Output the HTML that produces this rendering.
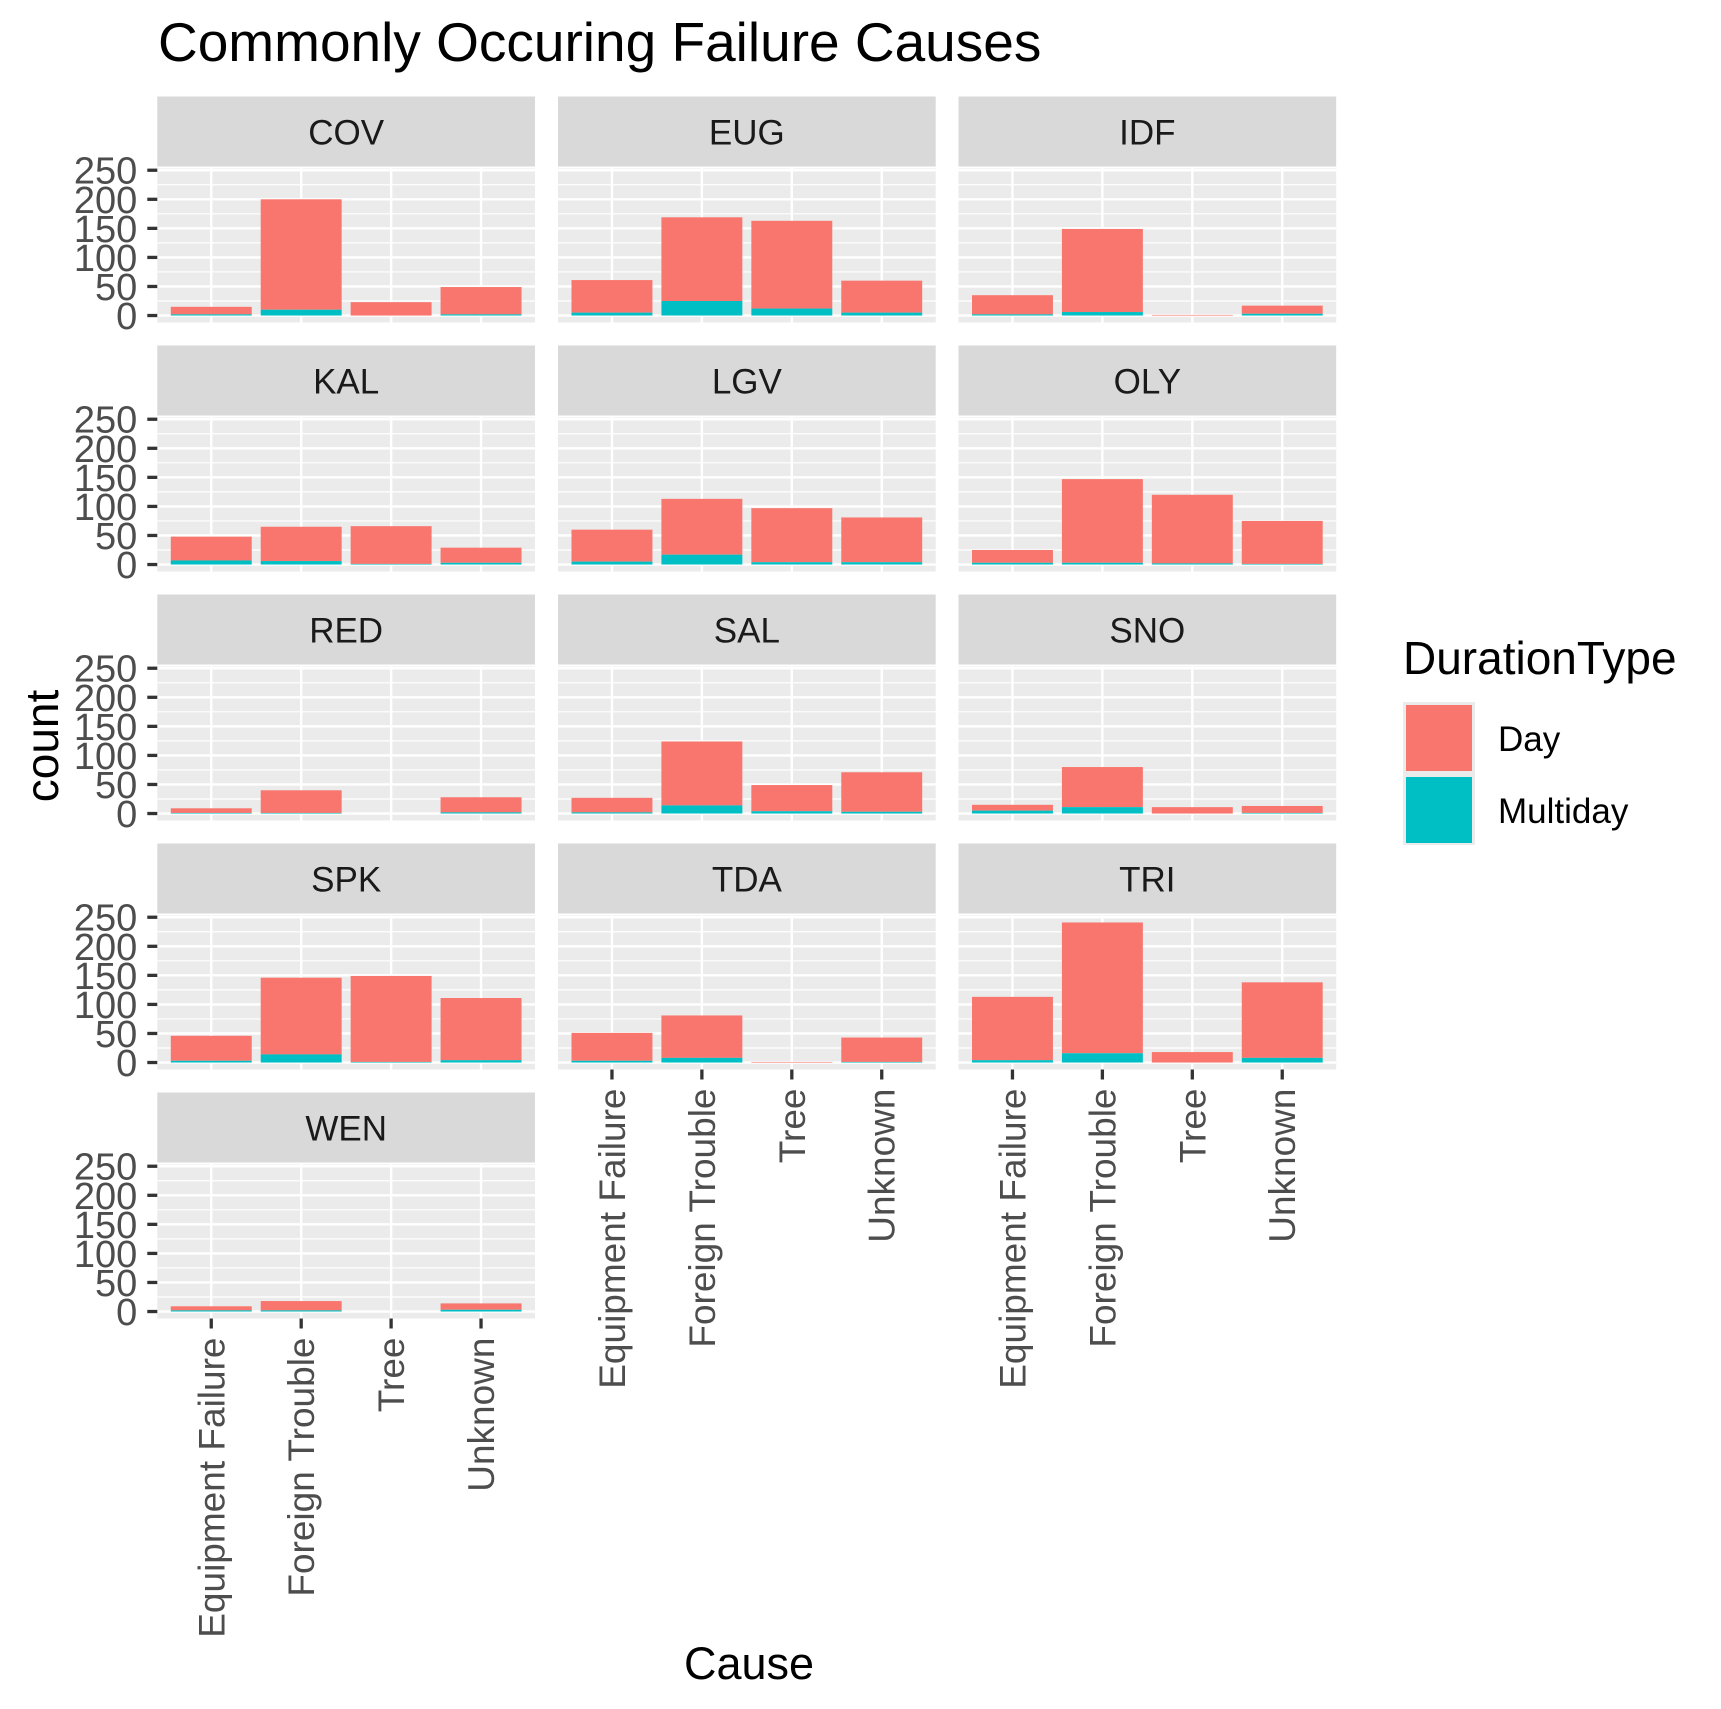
<!DOCTYPE html>
<html><head><meta charset="utf-8"><style>
body{margin:0;background:#fff}
svg{display:block;font-family:"Liberation Sans",Arial,sans-serif}
</style></head><body>
<svg id="chart" width="1721" height="1709" xmlns="http://www.w3.org/2000/svg">
<text x="158" y="61" font-size="55" fill="#000">Commonly Occuring Failure Causes</text>
<text transform="translate(58,746) rotate(-90)" text-anchor="middle" font-size="46" fill="#000">count</text>
<text x="749" y="1679" text-anchor="middle" font-size="45" fill="#000">Cause</text>
<g>
<text x="1403" y="674" font-size="46" fill="#000">DurationType</text>
<rect x="1403" y="702" width="72" height="143" fill="#ebebeb"/>
<rect x="1406" y="705" width="66" height="66" fill="#F8766D"/>
<rect x="1406" y="777" width="66" height="66" fill="#00BFC4"/>
<text x="1498" y="751" font-size="35" fill="#000">Day</text>
<text x="1498" y="823" font-size="35" fill="#000">Multiday</text>
</g>
<g id="panels"></g>
</svg>
<script>
const facets = ["COV","EUG","IDF","KAL","LGV","OLY","RED","SAL","SNO","SPK","TDA","TRI","WEN"];
const categories = ["Equipment Failure","Foreign Trouble","Tree","Unknown"];
// total counts (Day + Multiday) per facet, per category
const totalCounts = [
  [15,200,23,49],[61,169,163,60],[35,149,1,17],
  [48,65,66,29],[60,113,97,81],[25,147,120,75],
  [9,40,0,28],[27,124,49,71],[15,80,11,13],
  [46,146,149,111],[51,81,1,43],[113,241,18,138],
  [9,18,0,14]
];
const multidayCounts = [
  [2,10,0,2],[5,25,12,5],[2,6,0,3],
  [7,6,1,3],[5,17,4,4],[3,3,2,1],
  [1,1,0,2],[2,14,4,3],[5,11,0,1],
  [3,14,1,4],[3,8,0,1],[4,16,0,8],
  [2,2,0,3]
];
const yTicks = [0,50,100,150,200,250];
const yMinor = [25,75,125,175,225];

const NS="http://www.w3.org/2000/svg";
const root=document.getElementById('panels');
const colX=[157.3,558,958.5], panelW=377.7, stripTop0=96.5, rowPitch=249;
const yMin=-12, yMax=253, panelH=154;
function mk(tag,attrs,parent){const e=document.createElementNS(NS,tag);for(const k in attrs)e.setAttribute(k,attrs[k]);(parent||root).appendChild(e);return e;}
facets.forEach((f,i)=>{
  const r=Math.floor(i/3), c=i%3;
  const x0=colX[c], st=stripTop0+r*rowPitch, pt=st+72;
  const yS=v=>pt+panelH*(yMax-v)/(yMax-yMin);
  const pitch=panelW/4.2;
  const xS=k=>x0+(0.6+k)*pitch;
  const g=mk('g',{});
  
  
  const strip=mk('rect',{x:x0,y:st,width:panelW,height:70,fill:'#d9d9d9'},g);
  
  
  const st2=mk('text',{x:x0+panelW/2,y:st+48,'text-anchor':'middle','font-size':35,fill:'#1a1a1a'},g);
  st2.textContent=f;
  
  
  const bg=mk('rect',{x:x0,y:pt,width:panelW,height:panelH,fill:'#ebebeb'},g);
  
  
  yMinor.forEach(v=>{const l=mk('line',{x1:x0,x2:x0+panelW,y1:yS(v),y2:yS(v),stroke:'#fff','stroke-width':1.2},g);
    });
  yTicks.forEach(v=>{const l=mk('line',{x1:x0,x2:x0+panelW,y1:yS(v),y2:yS(v),stroke:'#fff','stroke-width':2.4},g);
    });
  categories.forEach((cat,k)=>{const l=mk('line',{x1:xS(k),x2:xS(k),y1:pt,y2:pt+panelH,stroke:'#fff','stroke-width':2.4},g);
    });
  categories.forEach((cat,k)=>{
    const tot=totalCounts[i][k], md=multidayCounts[i][k];
    const bx=xS(k)-0.45*pitch, bw=0.9*pitch;
    if(tot>0){const b=mk('rect',{x:bx,y:yS(tot),width:bw,height:yS(md)-yS(tot),fill:'#F8766D'},g);
      }
    if(md>0){const b=mk('rect',{x:bx,y:yS(md),width:bw,height:yS(0)-yS(md),fill:'#00BFC4'},g);
      }
  });
  if(c===0){
    yTicks.forEach(v=>{
      const t=mk('line',{x1:x0-10,x2:x0,y1:yS(v),y2:yS(v),stroke:'#333','stroke-width':3.3},g);
      
      const tl=mk('text',{x:x0-20,y:yS(v)+13.5,'text-anchor':'end','font-size':38,fill:'#4d4d4d'},g);
      tl.textContent=v;
      
    });
  }
  const isBottom = (i+3>=facets.length);
  if(isBottom){
    const pb=pt+panelH;
    categories.forEach((cat,k)=>{
      const t=mk('line',{x1:xS(k),x2:xS(k),y1:pb,y2:pb+10,stroke:'#333','stroke-width':3.3},g);
      
      const tl=mk('text',{transform:`translate(${xS(k)+13},${pb+19}) rotate(-90)`,'text-anchor':'end','font-size':37,fill:'#4d4d4d'},g);
      tl.textContent=cat;
      
    });
  }
});
</script>
</body></html>
